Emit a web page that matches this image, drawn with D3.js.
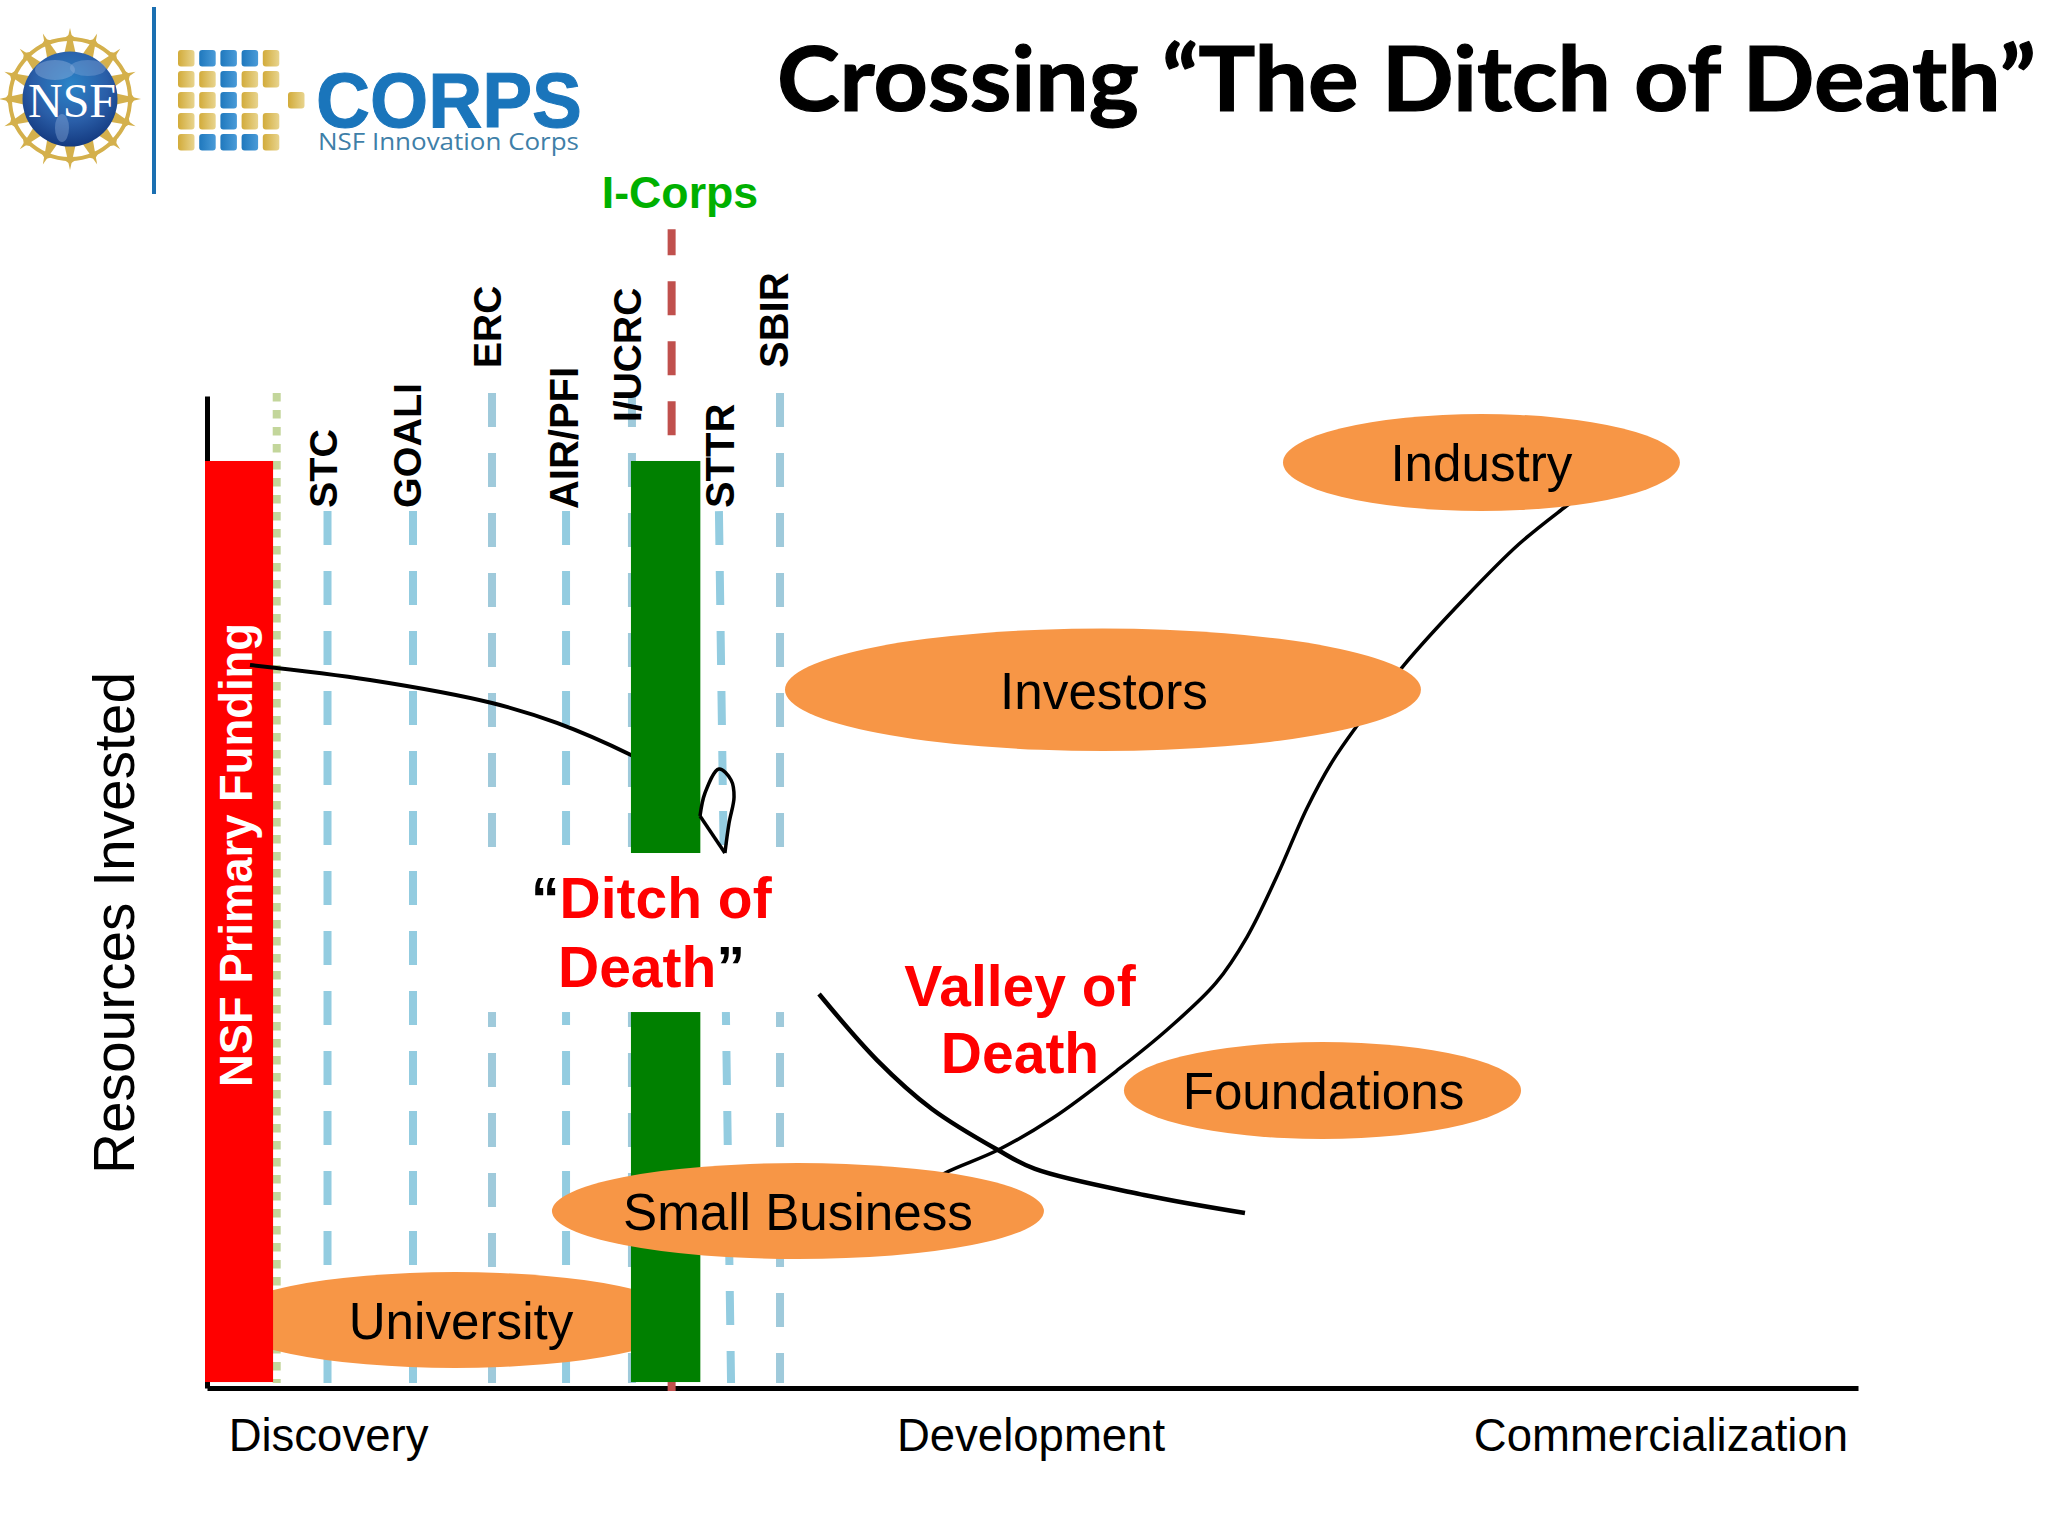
<!DOCTYPE html>
<html>
<head>
<meta charset="utf-8">
<title>Crossing "The Ditch of Death"</title>
<script src="https://cdn.jsdelivr.net/npm/d3@7"></script>
<style>
  html, body { margin: 0; padding: 0; background: #fff; }
  svg { display: block; }
  text { font-family: "Liberation Sans", Arial, sans-serif; }
</style>
</head>
<body>
<div id="chart"></div>
<script>
// Stages along the bottom axis
var stageLabels = ["Discovery", "Development", "Commercialization"];
var stageValues = [7.29, 49.61, 87.56];

// NSF programmes, the dashed verticals. STTR leans a little, so top and bottom differ
var programNames = ["STC", "GOALI", "ERC", "AIR/PFI", "I/UCRC", "STTR", "SBIR"];
var programStageTop = [7.26, 12.41, 17.17, 21.63, 25.6, 30.84, 34.52];
var programStageBottom = [7.26, 12.41, 17.17, 21.63, 25.6, 31.57, 34.52];
var programLevelTop = [88.4, 88.4, 100.3, 88.4, 100.3, 88.4, 100.3];
var programLevelBottom = 0.5;

var iCorpsName = "I-Corps";
var iCorpsStage = 27.99;
var iCorpsLevelTop = 116.8;
var iCorpsLevelBottom = -0.3;

var dottedStage = 4.2;
var dottedLevelTop = 100.3;

// Solid funding bars
var barNames = ["NSF Primary Funding", "I-Corps funding"];
var barStageFrom = [-0.12, 25.54];
var barStageTo = [3.98, 29.72];
var barLevelTop = [93.45, 93.45];
var barLevelBottom = [0.6, 0.6];

// The white "ditch" cut out of the green bar
var ditchStageFrom = 14.64;
var ditchStageTo = 36.87;
var ditchLevelTop = 53.93;
var ditchLevelBottom = 37.9;

// Funding sources, the orange ellipses
var sourceNames = ["University", "Small Business", "Investors", "Foundations", "Industry"];
var sourceStageFrom = [0.96, 20.78, 34.82, 55.24, 64.82];
var sourceStageTo = [28.92, 50.42, 73.13, 79.16, 88.73];
var sourceLevelLow = [2.02, 13.0, 64.21, 25.1, 88.41];
var sourceLevelHigh = [11.69, 22.68, 76.56, 34.88, 98.19];

// Curve leaving NSF funding, it disappears behind the green bar
var fallStage = [2.59, 9.82, 17.17, 21.08, 25.54, 27.2];
var fallLevel = [72.88, 71.37, 69.05, 67.04, 63.81, 62.3];

// Same curve coming out of the ditch
var sinkStage = [36.87, 40.36, 43.67, 47.65, 49.88, 56.45, 62.53];
var sinkLevel = [39.72, 33.06, 28.13, 23.99, 22.08, 19.46, 17.64];

// Curve that climbs with private funding
var riseStage = [43.25, 44.58, 47.65, 50.96, 54.94, 57.89, 60.78, 62.65, 64.46, 66.27, 67.77, 69.22, 72.11, 75.78, 79.04, 81.81, 83.01];
var riseLevel = [20.46, 21.77, 23.99, 27.22, 32.16, 36.19, 40.83, 45.46, 51.61, 58.47, 63.1, 66.63, 72.88, 79.64, 85.08, 88.81, 90.32];

// Small loop beside the green bar, closed by a straight stroke
var loopStage = [29.7, 30.0, 30.84, 31.57, 31.75, 31.45, 31.2];
var loopLevel = [57.66, 59.98, 62.4, 61.29, 59.58, 56.96, 53.93];
var loopCloseStage = [31.2, 29.7];
var loopCloseLevel = [53.93, 57.66];

// Logo grid, g = gold, b = blue, . = empty
var logoRows = ["gbbbg", "ggbgg", "ggbg.", "ggbgg", "gbbbg"];

// Store width and height parameters
var svgWidth = 2048;
var svgHeight = 1536;

var svg = d3.select("#chart")
  .append("svg")
  .attr("width", svgWidth)
  .attr("height", svgHeight);

// Scales
var x = d3.scaleLinear().domain([0, 99.46]).range([207, 1858]);
var y = d3.scaleLinear().domain([0, 100]).range([1388, 396]);

var curve = d3.line()
  .x(d => x(d[0]))
  .y(d => y(d[1]))
  .curve(d3.curveCatmullRom.alpha(0.5));

function addGradient(defs, id, from, to) {
  var g = defs.append("linearGradient").attr("id", id);
  g.append("stop").attr("offset", "0%").attr("stop-color", from);
  g.append("stop").attr("offset", "100%").attr("stop-color", to);
}

function drawLogo() {
  var logo = svg.append("g");

  var defs = svg.append("defs");
  var globe = defs.append("radialGradient")
    .attr("id", "globe")
    .attr("cx", "50%").attr("cy", "35%").attr("r", "65%");
  globe.append("stop").attr("offset", "0%").attr("stop-color", "#2a84c8");
  globe.append("stop").attr("offset", "60%").attr("stop-color", "#2a5ea8");
  globe.append("stop").attr("offset", "100%").attr("stop-color", "#143a80");
  addGradient(defs, "gold", "#d2ab3a", "#e8d48e");
  addGradient(defs, "blue", "#1f78bd", "#4a9bd8");

  // Gold sunburst: rays, a band across them and a small bar near each tip
  var cx = 70, cy = 99;
  d3.range(16).forEach(function (d) {
    var deg = d / 16 * 360;
    var ray = logo.append("g")
      .attr("transform", `translate(${cx}, ${cy}) rotate(${deg})`);
    ray.append("path")
      .attr("d", "M44,-6 L71,0 L44,6 Z")
      .attr("fill", "#d4b04c");
    ray.append("path")
      .attr("d", "M60,-7 L65,0 L60,7 L57,0 Z")
      .attr("fill", "#d4b04c");
  });
  logo.append("circle")
    .attr("cx", cx).attr("cy", cy).attr("r", 60)
    .attr("fill", "none")
    .attr("stroke", "#d4b04c")
    .attr("stroke-width", 4);

  logo.append("circle")
    .attr("cx", cx).attr("cy", cy).attr("r", 47.5)
    .attr("fill", "url(#globe)");

  // Faint land masses
  logo.append("ellipse")
    .attr("cx", 55).attr("cy", 70).attr("rx", 20).attr("ry", 10)
    .attr("fill", "#8fb0dc").attr("opacity", 0.45);
  logo.append("ellipse")
    .attr("cx", 88).attr("cy", 68).attr("rx", 18).attr("ry", 8)
    .attr("fill", "#8fb0dc").attr("opacity", 0.35);
  logo.append("ellipse")
    .attr("cx", 62).attr("cy", 128).attr("rx", 7).attr("ry", 14)
    .attr("fill", "#8fb0dc").attr("opacity", 0.4);

  logo.append("text")
    .attr("x", 72).attr("y", 117)
    .attr("text-anchor", "middle")
    .attr("font-size", 48)
    .style("font-family", "'Liberation Serif', serif")
    .attr("fill", "#fff")
    .text("NSF");

  // Divider
  logo.append("rect")
    .attr("x", 152).attr("y", 7)
    .attr("width", 4).attr("height", 187)
    .attr("fill", "#1b6fb1");

  // Square grid
  logoRows.forEach(function (row, r) {
    row.split("").forEach(function (cell, c) {
      if (cell === ".") return;
      logo.append("rect")
        .attr("x", 178 + c * 21.2).attr("y", 50 + r * 21)
        .attr("width", 16.5).attr("height", 16.5)
        .attr("rx", 3)
        .attr("fill", cell === "g" ? "url(#gold)" : "url(#blue)");
    });
  });
  logo.append("rect")
    .attr("x", 288).attr("y", 92)
    .attr("width", 16.5).attr("height", 16.5)
    .attr("rx", 3)
    .attr("fill", "url(#gold)");

  logo.append("text")
    .attr("x", 316).attr("y", 127)
    .attr("font-size", 77)
    .attr("font-weight", "bold")
    .attr("textLength", 266)
    .attr("lengthAdjust", "spacingAndGlyphs")
    .attr("fill", "#1a75bb")
    .attr("stroke", "#1a75bb")
    .attr("stroke-width", 1)
    .text("CORPS");

  logo.append("text")
    .attr("x", 318).attr("y", 150)
    .attr("font-size", 24)
    .attr("textLength", 261)
    .attr("lengthAdjust", "spacingAndGlyphs")
    .style("font-family", "'Open Sans', sans-serif")
    .attr("fill", "#3f7fa8")
    .text("NSF Innovation Corps");
}

function drawTitle() {
  svg.append("text")
    .attr("x", 777)
    .attr("y", 111)
    .attr("font-size", 89)
    .attr("font-weight", "bold")
    .attr("textLength", 1259)
    .attr("lengthAdjust", "spacingAndGlyphs")
    .style("font-family", "Lato, sans-serif")
    .attr("fill", "#000")
    .attr("stroke", "#000")
    .attr("stroke-width", 1.2)
    .text("Crossing \u201CThe Ditch of Death\u201D");
}

function drawAxes() {
  var bottomAxis = d3.axisBottom(x)
    .tickValues(stageValues)
    .tickFormat((d, i) => stageLabels[i])
    .tickSize(0);
  var leftAxis = d3.axisLeft(y).tickValues([]).tickSizeOuter(0);

  var bottom = svg.append("g")
    .attr("transform", `translate(0, ${y(0)})`)
    .call(bottomAxis);
  bottom.select(".domain")
    .attr("stroke", "#000")
    .attr("stroke-width", 5);
  bottom.selectAll("text")
    .attr("y", 63)
    .attr("dy", 0)
    .attr("font-size", 45.5)
    .attr("fill", "#000")
    .style("font-family", "'Liberation Sans', Arial, sans-serif");

  var left = svg.append("g")
    .attr("transform", `translate(${x(0)}, 0)`)
    .call(leftAxis);
  left.select(".domain")
    .attr("stroke", "#000")
    .attr("stroke-width", 5);

  svg.append("text")
    .attr("transform", `translate(134, 923) rotate(-90)`)
    .attr("text-anchor", "middle")
    .attr("font-size", 56.8)
    .attr("fill", "#000")
    .text("Resources Invested");
}

function drawPrograms() {
  // Label nudges from the top of each line: across, along
  var labelDx = [9, 8, 9, 12, 9, 15, 8];
  var labelDy = [-3, -3, -25, -2, 29, -3, -25];
  var labelSize = [39.5, 39.5, 39, 40, 39, 40, 40];

  svg.append("line")
    .attr("x1", x(dottedStage)).attr("x2", x(dottedStage))
    .attr("y1", y(dottedLevelTop)).attr("y2", y(programLevelBottom))
    .attr("stroke", "#c3d69b")
    .attr("stroke-width", 8)
    .attr("stroke-dasharray", "8.5 8.5");

  svg.selectAll("line.program")
    .data(programNames)
    .enter()
    .append("line")
    .attr("class", "program")
    .attr("x1", (d, i) => x(programStageTop[i]))
    .attr("x2", (d, i) => x(programStageBottom[i]))
    .attr("y1", (d, i) => y(programLevelTop[i]))
    .attr("y2", y(programLevelBottom))
    .attr("stroke", (d, i) => programLevelTop[i] > 90 ? "#9fcadb" : "#93cce0")
    .attr("stroke-width", 8)
    .attr("stroke-dasharray", "34 26");

  svg.append("line")
    .attr("x1", x(iCorpsStage)).attr("x2", x(iCorpsStage))
    .attr("y1", y(iCorpsLevelTop)).attr("y2", y(iCorpsLevelBottom))
    .attr("stroke", "#c0504d")
    .attr("stroke-width", 8)
    .attr("stroke-dasharray", "34 26")
    .attr("stroke-dashoffset", 8);

  return function drawLabels() {
    svg.selectAll("text.program")
      .data(programNames)
      .enter()
      .append("text")
      .attr("class", "program")
      .attr("transform", (d, i) =>
        `translate(${x(programStageTop[i]) + labelDx[i]}, ${y(programLevelTop[i]) + labelDy[i]}) rotate(-90)`)
      .attr("font-size", (d, i) => labelSize[i])
      .attr("font-weight", "bold")
      .attr("fill", "#000")
      .text(d => d);

    svg.append("text")
      .attr("x", 680)
      .attr("y", 208)
      .attr("text-anchor", "middle")
      .attr("font-size", 44.7)
      .attr("font-weight", "bold")
      .attr("fill", "#00b000")
      .text(iCorpsName);
  };
}

function drawEllipse(i) {
  var left = x(sourceStageFrom[i]);
  var right = x(sourceStageTo[i]);
  var top = y(sourceLevelHigh[i]);
  var bottom = y(sourceLevelLow[i]);
  svg.append("ellipse")
    .attr("cx", (left + right) / 2)
    .attr("cy", (top + bottom) / 2)
    .attr("rx", (right - left) / 2)
    .attr("ry", (bottom - top) / 2)
    .attr("fill", "#f79646");
}

function drawEllipseLabel(i) {
  var labelNudge = [6, 0, 1, 1, 0];
  svg.append("text")
    .attr("x", (x(sourceStageFrom[i]) + x(sourceStageTo[i])) / 2 + labelNudge[i])
    .attr("y", (y(sourceLevelHigh[i]) + y(sourceLevelLow[i])) / 2 + 19)
    .attr("text-anchor", "middle")
    .attr("font-size", 51.2)
    .attr("fill", "#000")
    .text(sourceNames[i]);
}

function drawBar(i) {
  svg.append("rect")
    .attr("x", x(barStageFrom[i]))
    .attr("y", y(barLevelTop[i]))
    .attr("width", x(barStageTo[i]) - x(barStageFrom[i]))
    .attr("height", y(barLevelBottom[i]) - y(barLevelTop[i]))
    .attr("fill", i === 0 ? "#ff0000" : "#008000");
}

function drawCurve(stages, levels, width) {
  svg.append("path")
    .attr("d", curve(stages.map((s, i) => [s, levels[i]])))
    .attr("fill", "none")
    .attr("stroke", "#000")
    .attr("stroke-width", width);
}

function drawNotes() {
  var ditch = svg.append("text")
    .attr("font-size", 57)
    .attr("font-weight", "bold");
  ditch.append("tspan").attr("x", 531).attr("y", 918).attr("fill", "#000").text("\u201C");
  ditch.append("tspan").attr("fill", "#ff0000").text("Ditch of");
  ditch.append("tspan").attr("x", 558).attr("y", 987).attr("fill", "#ff0000").text("Death");
  ditch.append("tspan").attr("fill", "#000").text("\u201D");

  svg.append("text")
    .attr("x", 1020).attr("y", 1006)
    .attr("text-anchor", "middle")
    .attr("font-size", 57)
    .attr("font-weight", "bold")
    .attr("fill", "#ff0000")
    .text("Valley of");
  svg.append("text")
    .attr("x", 1020).attr("y", 1073)
    .attr("text-anchor", "middle")
    .attr("font-size", 57)
    .attr("font-weight", "bold")
    .attr("fill", "#ff0000")
    .text("Death");

  svg.append("text")
    .attr("transform", "translate(252, 1087) rotate(-90)")
    .attr("font-size", 45.4)
    .attr("font-weight", "bold")
    .attr("fill", "#fff")
    .text(barNames[0]);
}

drawLogo();
drawTitle();
drawAxes();
var drawProgramLabels = drawPrograms();

// Back to front, the order matters here
drawEllipse(0);
drawBar(0);
drawCurve(fallStage, fallLevel, 4);
drawBar(1);

// Ditch cuts through the green bar and the lines around it
svg.append("rect")
  .attr("x", x(ditchStageFrom))
  .attr("y", y(ditchLevelTop))
  .attr("width", x(ditchStageTo) - x(ditchStageFrom))
  .attr("height", y(ditchLevelBottom) - y(ditchLevelTop))
  .attr("fill", "#fff");

drawCurve(sinkStage, sinkLevel, 4.5);
drawCurve(loopStage, loopLevel, 3.5);
drawCurve(loopCloseStage, loopCloseLevel, 3.5);
drawCurve(riseStage, riseLevel, 3.5);

drawEllipse(1);
drawEllipse(2);
drawEllipse(3);
drawEllipse(4);
sourceNames.forEach((d, i) => drawEllipseLabel(i));

drawProgramLabels();
drawNotes();
</script>
</body>
</html>
